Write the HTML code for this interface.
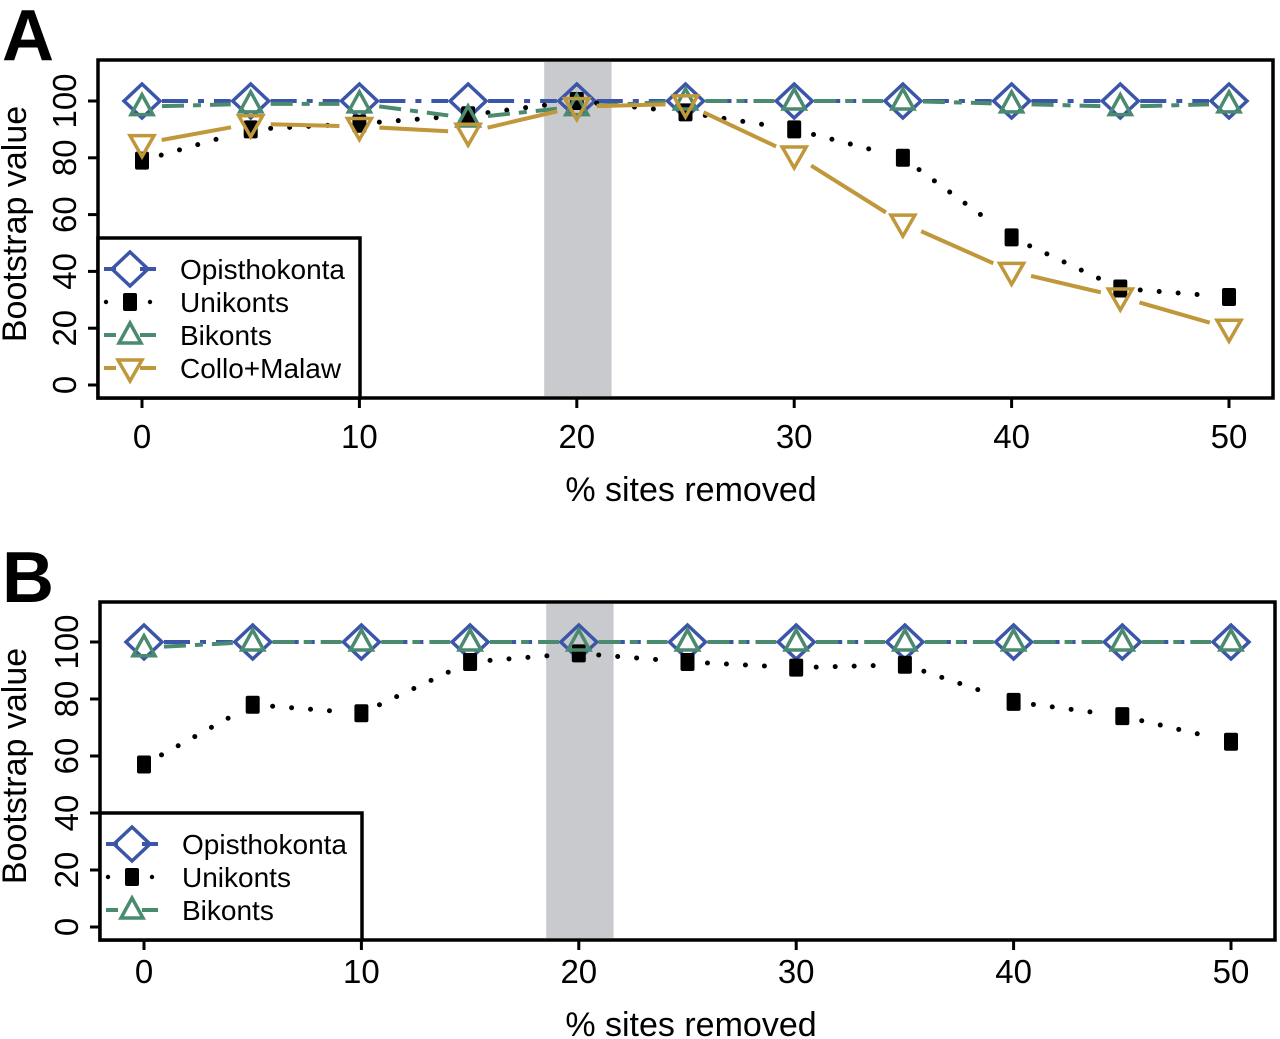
<!DOCTYPE html>
<html><head><meta charset="utf-8"><style>
body{margin:0;background:#fff}
svg{display:block;font-family:"Liberation Sans",Arial,sans-serif}
</style></head><body>
<svg id="c" width="1280" height="1039" viewBox="0 0 1280 1039"></svg>
<script>
const xVals=[0,5,10,15,20,25,30,35,40,45,50];
const xTicks=[0,10,20,30,40,50];
const yTicks=[0,20,40,60,80,100];
const aOpis=[100,100,100,100,100,100,100,100,100,100,100];
const aUni=[79,90,92,95,100,96,90,80,52,34,31];
const aBik=[98,99,99,94,98,100,100,100,99,98,99];
const aCollo=[85,92,91,89,98,99,81,57,40,31,20];
const bOpis=[100,100,100,100,100,100,100,100,100,100,100];
const bUni=[57,78,75,93,96,93,91,92,79,74,65];
const bBik=[98,100,100,100,100,100,100,100,100,100,100];
const band=[18.5,21.6];

const NS="http://www.w3.org/2000/svg";
const svg=document.getElementById('c');
function mk(t,a,p){const e=document.createElementNS(NS,t);for(const k in a)e.setAttribute(k,a[k]);(p||svg).appendChild(e);return e;}
const BLUE="#3b55a8",GREEN="#4a8a6e",GOLD="#c0973a";
const styles={
 opis:{c:BLUE,dash:"26,10,6,10",w:4,m:"diamond"},
 uni:{c:"#000",dash:"0,19",w:5,m:"square",cap:"round"},
 bik:{c:GREEN,dash:"22,9,8,9",w:4,m:"tri"},
 collo:{c:GOLD,dash:"",w:4,m:"dtri"}
};
function marker(g,type,cx,cy,c){
 if(type==="diamond")mk('polygon',{points:`${cx},${cy-17} ${cx+18},${cy} ${cx},${cy+17} ${cx-18},${cy}`,fill:"none",stroke:c,'stroke-width':3.5},g);
 else if(type==="square")mk('rect',{x:cx-7,y:cy-9,width:14,height:18,rx:2,fill:"#000"},g);
 else if(type==="tri")mk('polygon',{points:`${cx},${cy-12} ${cx+11},${cy+8} ${cx-11},${cy+8}`,fill:"none",stroke:c,'stroke-width':3.5},g);
 else mk('polygon',{points:`${cx},${cy+13} ${cx+12},${cy-8} ${cx-12},${cy-8}`,fill:"none",stroke:c,'stroke-width':3.5},g);
}
function panel(o){
 const X=v=>o.x0+(v/50)*(o.x50-o.x0);
 const Y=v=>o.y0-(v/100)*(o.y0-o.y100);
 const g=mk('g',{});
 
 
 const b=mk('rect',{x:X(band[0]),y:o.top+2,width:X(band[1])-X(band[0]),height:o.bot-o.top-4,fill:"#c9cacd"},g);
 
 o.series.forEach(s=>{
  const st=styles[s.k];
  const sg=mk('g',{},g);
  
  
  for(let i=0;i<xVals.length-1;i++){
   const x1=X(xVals[i]),y1=Y(s.v[i]),x2=X(xVals[i+1]),y2=Y(s.v[i+1]);
   const d=Math.hypot(x2-x1,y2-y1),gap=20;
   if(d<2*gap)continue;
   const ux=(x2-x1)/d,uy=(y2-y1)/d;
   mk('line',{x1:x1+ux*gap,y1:y1+uy*gap,x2:x2-ux*gap,y2:y2-uy*gap,stroke:st.c,'stroke-width':st.w,'stroke-dasharray':st.dash,'stroke-linecap':st.cap||'butt'},sg);
  }
  s.v.forEach((v,i)=>marker(sg,st.m,X(xVals[i]),Y(v),st.c));
 });
 const fr=mk('rect',{x:o.left,y:o.top,width:o.right-o.left,height:o.bot-o.top,fill:"none",stroke:"#000",'stroke-width':3.5},g);
 
 xTicks.forEach(t=>{
  mk('line',{x1:X(t),x2:X(t),y1:o.bot,y2:o.bot+10,stroke:"#000",'stroke-width':3},g);
  const tx=mk('text',{x:X(t),y:o.tickY,'font-size':33,'text-anchor':'middle'},g);tx.textContent=t;
  
 });
 yTicks.forEach(t=>{
  mk('line',{x1:o.left-10,x2:o.left,y1:Y(t),y2:Y(t),stroke:"#000",'stroke-width':3},g);
  const tx=mk('text',{x:0,y:0,'font-size':33,'text-anchor':'middle',transform:`translate(${o.left-22},${Y(t)}) rotate(-90)`},g);tx.textContent=t;
  
 });
 const xl=mk('text',{x:691,y:o.labY,'font-size':34,'text-anchor':'middle'},g);xl.textContent="% sites removed";
 
 const yl=mk('text',{x:0,y:0,'font-size':34,'text-anchor':'middle',transform:`translate(26,${(o.top+o.bot)/2-5}) rotate(-90)`},g);yl.textContent="Bootstrap value";
 
 const pl=mk('text',{x:2,y:o.top,'font-size':72,'font-weight':'bold'},g);pl.textContent=o.letter;
 
 const lg=mk('g',{},g);
 
 const lh=o.series.length*33+28;
 mk('rect',{x:o.left,y:o.bot-lh,width:262,height:lh,fill:"#fff",stroke:"#000",'stroke-width':3.5},lg);
 o.series.forEach((s,i)=>{
  const st=styles[s.k];
  const ey=o.bot-lh+31+i*33;
  const eg=mk('g',{},lg);
  
  if(s.k==="uni"){mk('circle',{cx:o.left+8,cy:ey,r:2.2,fill:"#000"},eg);mk('circle',{cx:o.left+52,cy:ey,r:2.2,fill:"#000"},eg);}
  else mk('line',{x1:o.left+6,x2:o.left+58,y1:ey,y2:ey,stroke:st.c,'stroke-width':st.w},eg);
  if(st.m!=="square")mk('rect',{x:o.left+18,y:ey-12,width:24,height:24,fill:"#fff"},eg);
  marker(eg,st.m,o.left+32,ey,st.c);
  const t=mk('text',{x:o.left+82,y:ey+10,'font-size':28},eg);t.textContent=s.label;
 });
}
panel({name:'panel-a',letter:'A',left:98,right:1273,top:60,bot:398,x0:142,x50:1229,y0:385,y100:101,tickY:448,labY:501,
 series:[{k:'opis',v:aOpis,label:'Opisthokonta'},{k:'uni',v:aUni,label:'Unikonts'},{k:'bik',v:aBik,label:'Bikonts'},{k:'collo',v:aCollo,label:'Collo+Malaw'}]});
panel({name:'panel-b',letter:'B',left:100,right:1275,top:602,bot:940,x0:144,x50:1231,y0:927,y100:642,tickY:983,labY:1036,
 series:[{k:'opis',v:bOpis,label:'Opisthokonta'},{k:'uni',v:bUni,label:'Unikonts'},{k:'bik',v:bBik,label:'Bikonts'}]});
</script>
</body></html>
